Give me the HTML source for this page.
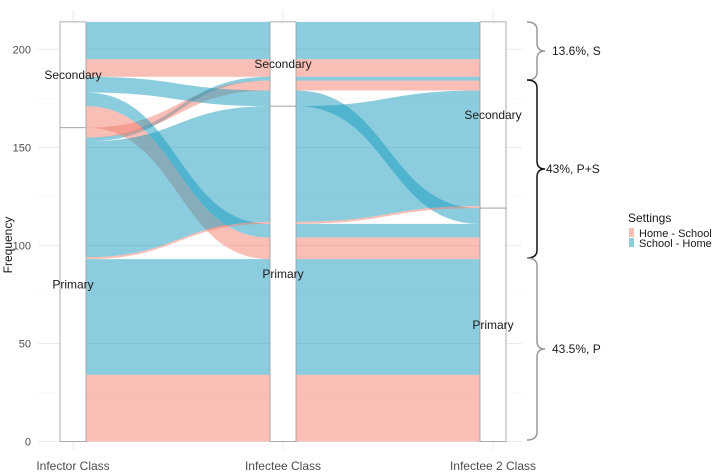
<!DOCTYPE html>
<html><head><meta charset="utf-8"><style>
body{margin:0;background:#fff}
svg{display:block;font-family:"Liberation Sans",sans-serif}
</style></head><body>
<svg id="chart" width="712" height="473"></svg>
<script>
// ---- data ----
const axes = ["Infector Class","Infectee Class","Infectee 2 Class"];
const strataNames = ["Secondary","Primary"];
const settings = ["Home - School","School - Home"];
// each alluvium: setting index, class at each axis, count
const alluvSetting = [1,0,1,0,1,1,0,1,0,1,0];
const alluvPath = [["S","S","S"],["S","S","S"],["P","S","S"],["P","S","S"],["S","S","P"],["S","P","P"],["S","P","P"],["P","P","S"],["P","P","S"],["P","P","P"],["P","P","P"]];
const alluvCount = [19,9,2,5,8,7,11,59,1,59,34];
// stacking order (top to bottom) at each axis
const orderAxis = [[0,1,4,5,6,3,2,7,8,9,10],[0,1,2,3,4,7,8,5,6,9,10],[0,1,2,3,7,8,4,5,6,9,10]];
const yTicks = [0,50,100,150,200];
const braceLabels = ["13.6%, S","43%, P+S","43.5%, P"];

// ---- scales ----
const NS="http://www.w3.org/2000/svg";
const svg=document.getElementById('chart');
const y0px=441.5, pxPer=1.961;
const yS=v=>y0px-v*pxPer;
const axX=[73,283,493], sw=26;
function mk(t,a,p){const e=document.createElementNS(NS,t);for(const k in a)e.setAttribute(k,a[k]);(p||svg).appendChild(e);return e;}
const fills=["rgba(243,125,110,0.5)","rgba(23,155,190,0.5)"];

// grid
for(let v=0;v<=200;v+=25){const g=mk('line',{x1:38,x2:522,y1:yS(v),y2:yS(v),stroke:v%50?'#f3f3f3':'#ebebeb','stroke-width':v%50?0.5:1});
}
axX.forEach(x=>{const g=mk('line',{x1:x,x2:x,y1:10,y2:450,stroke:'#ebebeb','stroke-width':1});
});

// layout positions
const total=alluvCount.reduce((a,b)=>a+b,0);
const pos=axes.map((_,a)=>{const r={};let top=total;orderAxis[a].forEach(i=>{r[i]=[top,top-alluvCount[i]];top-=alluvCount[i];});return r;});

// flows
for(let a=0;a<2;a++){
  const xa=axX[a]+sw/2, xb=axX[a+1]-sw/2, xm=(xa+xb)/2;
  for(let i=0;i<alluvCount.length;i++){
    const [t1,b1]=pos[a][i],[t2,b2]=pos[a+1][i];
    const d=`M${xa},${yS(t1)} C${xm},${yS(t1)} ${xm},${yS(t2)} ${xb},${yS(t2)} L${xb},${yS(b2)} C${xm},${yS(b2)} ${xm},${yS(b1)} ${xa},${yS(b1)} Z`;
    const p=mk('path',{d,fill:fills[alluvSetting[i]]});
    
    
  }
}
// strata
axes.forEach((ax,a)=>{
  let sTot=0;alluvCount.forEach((c,i)=>{if(alluvPath[i][a]==="S")sTot+=c;});
  const segs=[["Secondary",total,total-sTot],["Primary",total-sTot,0]];
  segs.forEach(([nm,t,b])=>{
    const r=mk('rect',{x:axX[a]-sw/2,y:yS(t),width:sw,height:yS(b)-yS(t),fill:'#fff',stroke:'#9a9a9a','stroke-width':0.8});
    
    
    const tx=mk('text',{x:axX[a],y:yS((t+b)/2)+4,'text-anchor':'middle','font-size':12,fill:'#1a1a1a'});tx.textContent=nm;
    
  });
  const l=mk('text',{x:axX[a],y:470,'text-anchor':'middle','font-size':12,fill:'#4d4d4d'});l.textContent=ax;
  
});
// y ticks
yTicks.forEach(v=>{const t=mk('text',{x:31,y:yS(v)+4,'text-anchor':'end','font-size':11,fill:'#4d4d4d'});t.textContent=v;
});
const yt=mk('text',{x:0,y:0,transform:'translate(12,245) rotate(-90)','text-anchor':'middle','font-size':12,fill:'#1a1a1a'});yt.textContent='Frequency';


// braces
const brace=[[22,80,'#999'],[80,258,'#111'],[258,440,'#999']];
brace.forEach(([t,b,c],k)=>{
  const m=(t+b)/2,x0=527,x1=537,x2=545;
  const d=`M${x0},${t} Q${x1},${t} ${x1},${t+8} L${x1},${m-8} Q${x1},${m} ${x2},${m} Q${x1},${m} ${x1},${m+8} L${x1},${b-8} Q${x1},${b} ${x0},${b}`;
  const p=mk('path',{d,fill:'none',stroke:c,'stroke-width':1.5});
  
  const tx=mk('text',{x:x2+(k==1?1:7),y:m+4,'font-size':12,fill:'#1a1a1a'});tx.textContent=braceLabels[k];
  
});
// legend
const lg=mk('g',{});
const lt=mk('text',{x:628,y:222,'font-size':12,fill:'#1a1a1a'},lg);lt.textContent='Settings';
settings.forEach((s,k)=>{
  const r=mk('rect',{x:629,y:228+k*10,width:5,height:9,fill:fills[k]},lg);
  
  const t=mk('text',{x:639,y:237+k*10,'font-size':11,fill:'#1a1a1a'},lg);t.textContent=s;
  
});
</script>
</body></html>
